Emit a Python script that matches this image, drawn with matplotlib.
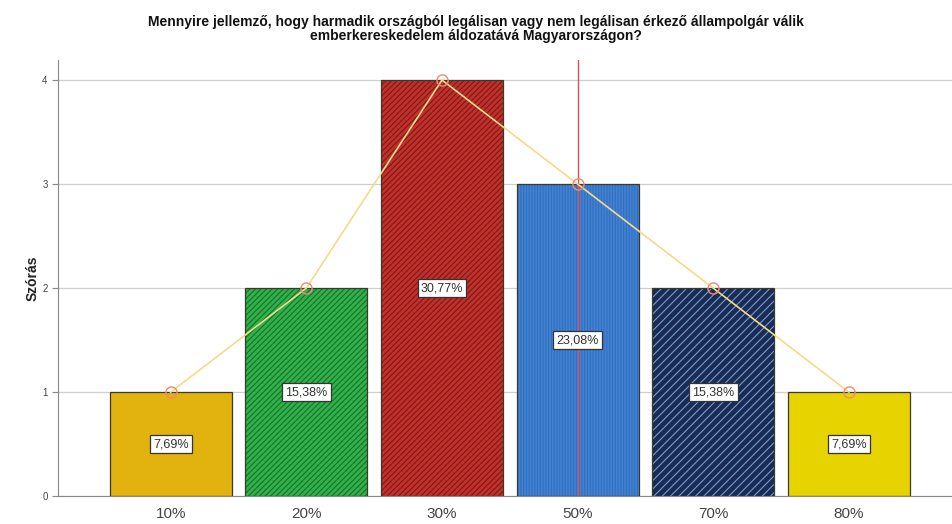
import matplotlib
matplotlib.use("Agg")
import matplotlib.pyplot as plt
import numpy as np

categories = ["10%", "20%", "30%", "50%", "70%", "80%"]
counts = [1, 2, 4, 3, 2, 1]
pct_labels = ["7,69%", "15,38%", "30,77%", "23,08%", "15,38%", "7,69%"]
title = ("Mennyire jellemző, hogy harmadik országból legálisan vagy nem legálisan érkező állampolgár válik\n"
         "emberkereskedelem áldozatává Magyarországon?")
ylabel = "Szórás"

face_colors = ["#e2b20f", "#2fb24a", "#c1302b", "#4081d2", "#1b2b52", "#e6d300"]
hatch_colors = ["#e2b20f", "#1c6e2e", "#7a1a18", "#3470c0", "#6f9fd8", "#e6d300"]
hatches = [None, "//////", "//////", "||||||", "////", None]

plt.rcParams['font.family'] = ['Liberation Sans', 'DejaVu Sans']
plt.rcParams['hatch.linewidth'] = 0.8

fig = plt.figure(figsize=(9.52, 5.24), dpi=100)
ax = fig.add_axes([0.061, 0.053, 0.939, 0.832])

x = np.arange(len(categories))
ax.set_axisbelow(True)
ax.yaxis.grid(True, color="#cfcfcf", linewidth=0.9)

for i in range(len(categories)):
    ax.bar(x[i], counts[i], width=0.9, color=face_colors[i], hatch=hatches[i],
           edgecolor=hatch_colors[i], linewidth=0, zorder=2)
    ax.bar(x[i], counts[i], width=0.9, fill=False, edgecolor="#3a3a2a",
           linewidth=0.9, zorder=3)
    ax.text(x[i], counts[i] / 2, pct_labels[i], ha="center", va="center",
            fontsize=9, color="#333333", zorder=6,
            bbox=dict(boxstyle="square,pad=0.25", facecolor="white",
                      edgecolor="#333333", linewidth=0.9))

ax.axvline(3, color="#e05050", linewidth=1.0, zorder=4)
ax.plot(x, counts, color="#f5da8a", linewidth=1.2, zorder=5)
ax.plot(x, counts, linestyle="none", marker="o", markersize=8,
        markerfacecolor="none", markeredgecolor="#f08a70", markeredgewidth=1.0, zorder=5)

ax.set_xlim(-0.83, 5.76)
ax.set_ylim(0, 4.19)
ax.set_xticks(x)
ax.set_xticklabels(categories, fontsize=11, color="#444444")
ax.set_yticks([0, 1, 2, 3, 4])
ax.set_yticklabels(["0", "1", "2", "3", "4"], fontsize=7, color="#444444")
ax.tick_params(axis="x", length=0, pad=8)
ax.tick_params(axis="y", length=4, color="#888888", width=0.8)
for s in ["top", "right"]:
    ax.spines[s].set_visible(False)
ax.spines["left"].set_color("#888888")
ax.spines["bottom"].set_color("#888888")
ax.set_ylabel(ylabel, fontsize=10, fontweight="bold", color="#222222", labelpad=2)

fig.text(0.5, 0.945, title, ha="center", va="center", fontsize=10, fontweight="bold",
         color="#111111", linespacing=0.95)

fig.savefig("out.png", dpi=100)
